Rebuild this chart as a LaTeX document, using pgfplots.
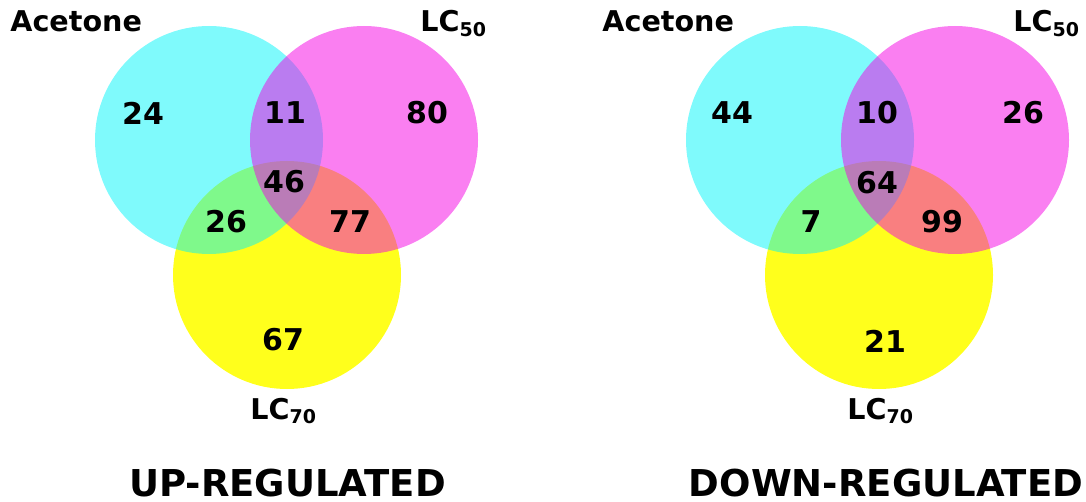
\documentclass[border=0pt]{standalone}
\usepackage{fontspec}
\setmainfont{DejaVu Sans}
\usepackage{pgfplots}
\pgfplotsset{compat=1.18}
\definecolor{vyellow}{RGB}{255,255,28}
\definecolor{vcyan}{RGB}{0,245,250}
\definecolor{vmag}{RGB}{245,0,228}
\newcommand{\lab}{\fontsize{14.3}{16}\selectfont\bfseries}
\newcommand{\sub}[1]{\raisebox{-2.2pt}{\fontsize{9.5}{10}\selectfont\bfseries #1}}
\begin{document}
\begin{tikzpicture}
\useasboundingbox (0,0) rectangle (543pt,251pt);
\begin{axis}[
  x=0.5pt, y=0.5pt,
  xmin=0, xmax=1086, ymin=0, ymax=502,
  y dir=reverse,
  enlargelimits=false,
  hide axis, clip=false,
  at={(0,0)}, anchor=south west,
]
% circles: yellow (LC70) first, then cyan (Acetone), then magenta (LC50)
\addplot[only marks, mark=*, mark size=57pt,
  mark options={draw opacity=0, fill=vyellow}] coordinates {(287,275) (879,275)};
\addplot[only marks, mark=*, mark size=57pt,
  mark options={draw opacity=0, fill=vcyan, fill opacity=0.5}] coordinates {(209,140) (800,140)};
\addplot[only marks, mark=*, mark size=57pt,
  mark options={draw opacity=0, fill=vmag, fill opacity=0.5}] coordinates {(364,140) (955,140)};
% counts
\addplot[only marks, mark=none, point meta=explicit symbolic,
  nodes near coords, nodes near coords align=center,
  nodes near coords style={font=\fontsize{15}{18}\selectfont\bfseries, text=black, inner sep=0pt}]
  table[meta=lab] {
x y lab
143 113 24
285 113 11
427 113 80
284 182 46
226 222 26
350 222 77
283 340 67
732 113 44
877 113 10
1023 113 26
877 183 64
811 222 7
942 222 99
885 341 21
};
% set names
\node[anchor=base west, inner sep=0pt, font=\lab] at (axis cs:10,32) {Acetone};
\node[anchor=base west, inner sep=0pt, font=\lab] at (axis cs:420,32) {LC\sub{50}};
\node[anchor=base west, inner sep=0pt, font=\lab] at (axis cs:250,419) {LC\sub{70}};
\node[anchor=base west, inner sep=0pt, font=\lab] at (axis cs:602,32) {Acetone};
\node[anchor=base west, inner sep=0pt, font=\lab] at (axis cs:1013,32) {LC\sub{50}};
\node[anchor=base west, inner sep=0pt, font=\lab] at (axis cs:847,419) {LC\sub{70}};
% titles
\node[anchor=base, inner sep=0pt, font=\fontsize{18.5}{22}\selectfont\bfseries] at (axis cs:287.5,496) {UP-REGULATED};
\node[anchor=base, inner sep=0pt, font=\fontsize{18.5}{22}\selectfont\bfseries] at (axis cs:886,496) {DOWN-REGULATED};
\end{axis}
\end{tikzpicture}
\end{document}
